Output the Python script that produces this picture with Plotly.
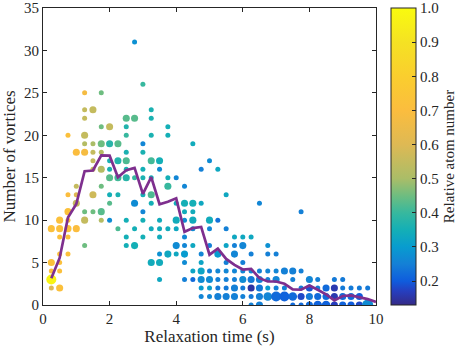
import math
import plotly.graph_objects as go

# Relaxation time (s), number of vortices, number of runs at that point, relative atom number
time_s = [
    0.25, 0.25, 0.25, 0.25, 0.25,
    0.5, 0.5, 0.5, 0.5, 0.5, 0.5, 0.5,
    0.75, 0.75, 0.75, 0.75, 0.75, 0.75, 0.75,
    1.0, 1.0, 1.0, 1.0, 1.0,
    1.25, 1.25, 1.25, 1.25, 1.25, 1.25, 1.25, 1.25, 1.25,
    1.5, 1.5, 1.5, 1.5, 1.5, 1.5, 1.5,
    1.75, 1.75, 1.75, 1.75, 1.75, 1.75, 1.75, 1.75,
    2.0, 2.0, 2.0, 2.0, 2.0, 2.0, 2.0, 2.0,
    2.25, 2.25, 2.25, 2.25, 2.25,
    2.5, 2.5, 2.5, 2.5, 2.5, 2.5, 2.5, 2.5, 2.5, 2.5,
    2.75, 2.75, 2.75, 2.75, 2.75, 2.75,
    3.0, 3.0, 3.0, 3.0, 3.0, 3.0, 3.0, 3.0, 3.0,
    3.25, 3.25, 3.25, 3.25, 3.25, 3.25, 3.25, 3.25, 3.25,
    3.5, 3.5, 3.5, 3.5, 3.5, 3.5, 3.5, 3.5,
    3.75, 3.75, 3.75, 3.75, 3.75, 3.75,
    4.0, 4.0, 4.0, 4.0, 4.0, 4.0,
    4.25, 4.25, 4.25, 4.25, 4.25, 4.25, 4.25, 4.25, 4.25,
    4.5, 4.5, 4.5, 4.5, 4.5, 4.5, 4.5, 4.5,
    4.75, 4.75, 4.75, 4.75, 4.75, 4.75, 4.75, 4.75,
    5.0, 5.0, 5.0, 5.0, 5.0, 5.0, 5.0, 5.0,
    5.25, 5.25, 5.25, 5.25, 5.25, 5.25, 5.25,
    5.5, 5.5, 5.5, 5.5, 5.5, 5.5, 5.5, 5.5,
    5.75, 5.75, 5.75, 5.75, 5.75, 5.75, 5.75,
    6.0, 6.0, 6.0, 6.0, 6.0, 6.0, 6.0,
    6.25, 6.25, 6.25, 6.25, 6.25, 6.25, 6.25,
    6.5, 6.5, 6.5, 6.5, 6.5, 6.5,
    6.75, 6.75, 6.75, 6.75, 6.75, 6.75,
    7.0, 7.0, 7.0, 7.0, 7.0,
    7.25, 7.25, 7.25,
    7.5, 7.5, 7.5, 7.5,
    7.75, 7.75, 7.75, 7.75, 7.75,
    8.0, 8.0, 8.0, 8.0,
    8.25, 8.25, 8.25, 8.25,
    8.5, 8.5, 8.5,
    8.75, 8.75, 8.75, 8.75,
    9.0, 9.0, 9.0, 9.0,
    9.25, 9.25, 9.25,
    9.5, 9.5, 9.5,
    9.75, 9.75,
]
vortices = [
    9, 5, 4, 3, 2,
    10, 9, 8, 6, 5, 4, 2,
    20, 13, 11, 10, 9, 8, 6,
    18, 14, 13, 12, 9,
    25, 23, 22, 20, 19, 18, 11, 10, 7,
    23, 19, 18, 17, 16, 13, 11,
    25, 21, 19, 18, 16, 14, 11, 10,
    21, 19, 17, 16, 15, 13, 12, 10,
    19, 17, 15, 13, 9,
    22, 21, 20, 18, 17, 16, 15, 10, 8, 7,
    31, 22, 15, 12, 9, 7,
    26, 19, 18, 16, 15, 13, 11, 10, 8,
    23, 22, 20, 17, 15, 13, 12, 9, 5,
    17, 16, 10, 9, 8, 6, 5, 3,
    21, 20, 15, 14, 9, 6,
    15, 12, 10, 9, 7, 6,
    14, 12, 11, 10, 8, 7, 6, 5, 3,
    19, 12, 11, 10, 9, 7, 4, 3,
    16, 12, 6, 5, 4, 3, 2, 1,
    17, 10, 9, 7, 4, 3, 2, 1,
    16, 10, 6, 4, 3, 2, 1,
    13, 9, 7, 5, 4, 3, 2, 1,
    8, 7, 6, 4, 3, 2, 1,
    8, 7, 5, 4, 3, 2, 1,
    8, 6, 4, 3, 2, 1, 0,
    12, 4, 3, 2, 1, 0,
    7, 6, 4, 3, 2, 1,
    6, 4, 3, 2, 1,
    4, 2, 1,
    4, 3, 1, 0,
    11, 4, 2, 1, 0,
    3, 2, 1, 0,
    3, 2, 1, 0,
    2, 1, 0,
    3, 2, 1, 0,
    3, 2, 1, 0,
    2, 1, 0,
    2, 1, 0,
    2, 0,
]
runs = [
    2, 2, 1, 4, 1,
    2, 2, 1, 1, 1, 1, 2,
    1, 1, 2, 1, 2, 1, 1,
    2, 1, 1, 2, 2,
    1, 1, 1, 2, 1, 2, 1, 2, 1,
    2, 1, 1, 1, 1, 2, 1,
    1, 1, 2, 1, 2, 1, 2, 1,
    2, 2, 1, 1, 2, 1, 1, 1,
    2, 2, 2, 1, 1,
    2, 1, 1, 1, 2, 1, 2, 1, 1, 1,
    1, 2, 1, 2, 1, 2,
    1, 1, 1, 1, 1, 1, 1, 1, 1,
    1, 1, 1, 2, 1, 2, 1, 1, 2,
    2, 1, 1, 1, 1, 1, 2, 1,
    1, 1, 1, 2, 1, 2,
    1, 1, 2, 1, 2, 1,
    1, 2, 1, 1, 1, 1, 2, 1, 1,
    1, 2, 1, 2, 1, 1, 1, 1,
    1, 1, 1, 1, 2, 2, 1, 1,
    1, 2, 1, 1, 1, 2, 1, 1,
    1, 1, 2, 1, 1, 1, 2,
    1, 1, 1, 1, 1, 1, 1, 2,
    1, 1, 2, 1, 1, 2, 2,
    1, 2, 1, 1, 2, 1, 1,
    1, 1, 1, 2, 2, 1, 1,
    1, 1, 2, 2, 2, 2,
    1, 1, 1, 1, 1, 3,
    1, 1, 2, 1, 4,
    2, 1, 4,
    2, 1, 3, 1,
    1, 1, 1, 2, 1,
    2, 2, 2, 2,
    1, 1, 2, 3,
    2, 2, 3,
    1, 2, 2, 2,
    1, 1, 2, 2,
    1, 2, 2,
    1, 2, 2,
    1, 5,
]
atom_number = [
    0.72, 0.72, 0.70, 0.97, 0.60,
    0.72, 0.72, 0.72, 0.72, 0.72, 0.72, 0.72,
    0.72, 0.70, 0.72, 0.72, 0.72, 0.72, 0.72,
    0.70, 0.55, 0.60, 0.55, 0.70,
    0.68, 0.55, 0.55, 0.55, 0.52, 0.68, 0.45, 0.55, 0.45,
    0.55, 0.50, 0.55, 0.55, 0.55, 0.57, 0.45,
    0.45, 0.45, 0.45, 0.52, 0.52, 0.45, 0.43, 0.52,
    0.55, 0.38, 0.36, 0.36, 0.43, 0.35, 0.43, 0.27,
    0.43, 0.37, 0.41, 0.36, 0.42,
    0.43, 0.37, 0.40, 0.36, 0.42, 0.36, 0.38, 0.35, 0.35, 0.35,
    0.28, 0.43, 0.40, 0.27, 0.35, 0.35,
    0.40, 0.26, 0.36, 0.35, 0.36, 0.35, 0.26, 0.35, 0.35,
    0.36, 0.36, 0.36, 0.41, 0.35, 0.42, 0.35, 0.34, 0.34,
    0.35, 0.27, 0.34, 0.34, 0.34, 0.28, 0.34, 0.33,
    0.35, 0.35, 0.35, 0.40, 0.34, 0.33,
    0.26, 0.34, 0.34, 0.33, 0.27, 0.33,
    0.26, 0.35, 0.34, 0.27, 0.26, 0.26, 0.30, 0.27, 0.25,
    0.34, 0.35, 0.34, 0.34, 0.27, 0.33, 0.32, 0.22,
    0.25, 0.33, 0.26, 0.32, 0.32, 0.27, 0.30, 0.26,
    0.27, 0.34, 0.26, 0.25, 0.25, 0.27, 0.31, 0.26,
    0.33, 0.23, 0.30, 0.26, 0.25, 0.24, 0.25,
    0.33, 0.25, 0.32, 0.25, 0.26, 0.25, 0.24, 0.25,
    0.33, 0.25, 0.26, 0.26, 0.25, 0.25, 0.25,
    0.33, 0.26, 0.25, 0.26, 0.27, 0.24, 0.25,
    0.33, 0.25, 0.26, 0.24, 0.15, 0.24, 0.25,
    0.26, 0.25, 0.25, 0.24, 0.25, 0.25,
    0.28, 0.25, 0.26, 0.25, 0.30, 0.26,
    0.25, 0.26, 0.26, 0.25, 0.22,
    0.25, 0.25, 0.21,
    0.25, 0.25, 0.22, 0.22,
    0.25, 0.25, 0.24, 0.18, 0.22,
    0.26, 0.19, 0.24, 0.22,
    0.25, 0.24, 0.22, 0.21,
    0.22, 0.22, 0.21,
    0.24, 0.16, 0.16, 0.17,
    0.24, 0.24, 0.22, 0.21,
    0.24, 0.22, 0.20,
    0.24, 0.20, 0.18,
    0.24, 0.27,
]

# Mean number of vortices per relaxation time
mean_time = [0.25, 0.5, 0.75, 1.0, 1.25, 1.5, 1.75, 2.0, 2.25, 2.5, 2.75, 3.0, 3.25, 3.5, 3.75,
             4.0, 4.25, 4.5, 4.75, 5.0, 5.25, 5.5, 5.75, 6.0, 6.25, 6.5, 6.75, 7.0, 7.25, 7.5,
             7.75, 8.0, 8.25, 8.5, 8.75, 9.0, 9.25, 9.5, 9.75, 10.0]
mean_vortices = [3.16, 5.55, 10.3, 11.9, 15.77, 15.85, 17.64, 17.6, 15.06, 15.88, 16.16, 13.1,
                 15.06, 11.87, 12.17, 12.57, 8.63, 9.06, 9.2, 5.93, 6.64, 5.43, 4.73, 4.18, 4.26,
                 3.16, 2.77, 2.77, 2.5, 1.84, 1.8, 2.3, 1.8, 1.25, 0.55, 1.06, 1.13, 0.94, 0.7, 0.35]

x_ticks = [0, 2, 4, 6, 8, 10]
y_ticks = [0, 5, 10, 15, 20, 25, 30, 35]
cbar_ticks = [0.2, 0.3, 0.4, 0.5, 0.6, 0.7, 0.8, 0.9, 1.0]
c_min, c_max = 0.13, 1.0

# colour map (value -> colour), matched to the reference colour bar
cmap_vals = [0.13, 0.17, 0.20, 0.25, 0.30, 0.35, 0.40, 0.45, 0.50, 0.60, 0.70, 0.80, 0.90, 1.0]
cmap_cols = ["rgb(53,42,135)", "rgb(38,62,190)", "rgb(15,92,221)", "rgb(20,128,214)",
             "rgb(8,156,207)", "rgb(20,175,182)", "rgb(55,184,158)", "rgb(110,189,128)",
             "rgb(170,189,104)", "rgb(222,185,84)", "rgb(251,189,62)", "rgb(250,206,46)",
             "rgb(245,226,35)", "rgb(249,251,14)"]
colorscale = [[(v - c_min) / (c_max - c_min), c] for v, c in zip(cmap_vals, cmap_cols)]

marker_px = [5.0 * math.sqrt(n) for n in runs]

font_family = "Liberation Serif, Times New Roman, serif"
axis_col = "#262626"

fig = go.Figure()
fig.add_trace(go.Scatter(
    x=time_s, y=vortices, mode="markers",
    marker=dict(size=marker_px, color=atom_number, colorscale=colorscale,
                cmin=c_min, cmax=c_max, line=dict(width=0), opacity=1,
                colorbar=dict(
                    x=1.045, xanchor="left", y=0.5, yanchor="middle",
                    len=1, lenmode="fraction", thickness=25, thicknessmode="pixels",
                    outlinewidth=1, outlinecolor=axis_col, xpad=0, ypad=0,
                    tickvals=cbar_ticks, tickformat=".1f", ticks="inside", ticklen=4,
                    ticklabeloverflow="allow",
                    tickcolor=axis_col, tickfont=dict(family=font_family, size=15, color=axis_col),
                    title=dict(text="Relative atom number", side="right",
                               font=dict(family=font_family, size=15, color=axis_col)),
                )),
    showlegend=False, hoverinfo="skip",
))
fig.add_trace(go.Scatter(
    x=mean_time, y=mean_vortices, mode="lines",
    line=dict(color="#7e2f8e", width=2.7), showlegend=False, hoverinfo="skip",
))

axis_common = dict(
    showline=True, linecolor=axis_col, linewidth=1, mirror="ticks",
    ticks="inside", ticklen=4, tickcolor=axis_col, showgrid=False, zeroline=False,
    automargin=False, ticklabeloverflow="allow",
    tickfont=dict(family=font_family, size=15, color=axis_col),
)
fig.update_layout(
    width=463, height=347,
    margin=dict(l=43, r=87, t=8, b=42, autoexpand=False),
    paper_bgcolor="white", plot_bgcolor="white",
    xaxis=dict(range=[0, 10], tickvals=x_ticks,
               title=dict(text="Relaxation time (s)", standoff=2,
                          font=dict(family=font_family, size=17, color=axis_col)),
               **axis_common),
    yaxis=dict(range=[0, 35], tickvals=y_ticks,
               title=dict(text="Number of vortices", standoff=4,
                          font=dict(family=font_family, size=17, color=axis_col)),
               **axis_common),
)
fig.write_html("out.html", config={"displayModeBar": False},
               post_script="document.body.style.margin='0';")
